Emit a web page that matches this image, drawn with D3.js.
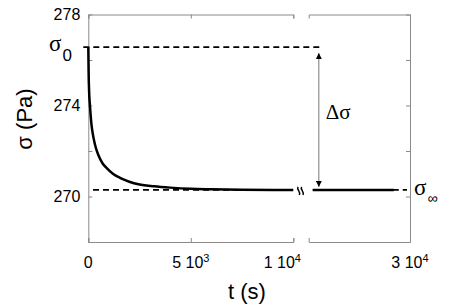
<!DOCTYPE html>
<html>
<head>
<meta charset="utf-8">
<script src="https://cdn.jsdelivr.net/npm/d3@7"></script>
<style>
  body { margin: 0; background: #fff; }
  svg { display: block; }
</style>
</head>
<body>
<svg id="chart" width="464" height="305"></svg>
<script>
// ---- data ----
const relaxT = [0, 15, 40, 80, 150, 250, 350, 500, 700, 900, 1200, 1600, 2000, 2500, 3200, 4000, 5000, 6000, 7500, 9000, 10000];
const relaxS = [276.57, 275.5, 274.6, 274.0, 273.2, 272.6, 272.2, 271.8, 271.45, 271.25, 271.0, 270.8, 270.65, 270.53, 270.45, 270.39, 270.34, 270.32, 270.3, 270.29, 270.29];
const lateT = [25200, 26000, 27000, 28000, 29200];
const lateS = [270.29, 270.29, 270.29, 270.29, 270.29];
const sigma0 = 276.57;
const sigmaInf = 270.29;
const yTicks = [268, 270, 272, 274, 276, 278];
const yLabeled = [270, 274, 278];
const xTicksLeft = [0, 5000, 10000];
const xTicksRight = [30000];
const xTickBase = ["0", "5 10", "1 10", "3 10"];
const xTickExp = ["", "3", "4", "4"];
const xDomainLeft = [0, 10000];
const xDomainRight = [25000, 30000];
const yDomain = [268, 278];
const arrowT = 25500;

// ---- layout ----
const svg = d3.select("#chart");
const xL = d3.scaleLinear().domain(xDomainLeft).range([88.3, 293.3]);
const xR = d3.scaleLinear().domain(xDomainRight).range([308.7, 410]);
const y = d3.scaleLinear().domain(yDomain).range([242, 14.5]);
const plotTop = y.range()[1], plotBottom = y.range()[0];
const axisColor = "#8a8a8a";
const sans = "'Liberation Sans', Arial, sans-serif";
const serif = "'Liberation Serif', 'Times New Roman', serif";

function styleAxis(g) {
  g.selectAll("path, line").attr("stroke", axisColor).attr("stroke-width", 1);
  g.selectAll("text").attr("fill", "#000").attr("font-family", sans).attr("font-size", 16);
}

// left axis
svg.append("g").attr("transform", `translate(${xL.range()[0]},0)`)
  .call(d3.axisLeft(y).tickValues(yTicks).tickSize(-4).tickSizeOuter(0).tickPadding(8)
    .tickFormat(d => yLabeled.includes(d) ? d : ""))
  .call(styleAxis);
// right axis
svg.append("g").attr("transform", `translate(${xR.range()[1]},0)`)
  .call(d3.axisRight(y).tickValues(yTicks).tickSize(-4).tickSizeOuter(0).tickFormat(""))
  .call(styleAxis);
// top axes
svg.append("g").attr("transform", `translate(0,${plotTop})`)
  .call(d3.axisTop(xL).tickValues(xTicksLeft).tickSize(-4).tickSizeOuter(-4).tickFormat(""))
  .call(styleAxis);
svg.append("g").attr("transform", `translate(0,${plotTop})`)
  .call(d3.axisTop(xR).tickValues(xTicksRight).tickSize(-4).tickSizeOuter(-4).tickFormat(""))
  .call(styleAxis);
// bottom axes
svg.append("g").attr("transform", `translate(0,${plotBottom})`)
  .call(d3.axisBottom(xL).tickValues(xTicksLeft).tickSize(-4).tickSizeOuter(-4).tickFormat(""))
  .call(styleAxis);
svg.append("g").attr("transform", `translate(0,${plotBottom})`)
  .call(d3.axisBottom(xR).tickValues(xTicksRight).tickSize(-4).tickSizeOuter(-4).tickFormat(""))
  .call(styleAxis);

// x tick labels with superscripts
const tickPos = [...xTicksLeft.map(v => xL(v)), ...xTicksRight.map(v => xR(v))];
const tickDx = [0, 0, -11, 0];
tickPos.forEach((px, i) => {
  const t = svg.append("text")
    .attr("x", px + tickDx[i]).attr("y", plotBottom + 26)
    .attr("text-anchor", "middle")
    .attr("font-family", sans).attr("font-size", 16).attr("fill", "#000");
  t.append("tspan").text(xTickBase[i]);
  if (xTickExp[i]) t.append("tspan").attr("dy", -6).attr("font-size", 11).text(xTickExp[i]);
});

// axis titles
svg.append("text").attr("x", 247).attr("y", 299).attr("text-anchor", "middle")
  .attr("font-family", sans).attr("font-size", 22).text("t (s)");
svg.append("text").attr("transform", "translate(32,119) rotate(-90)").attr("text-anchor", "middle")
  .attr("font-family", sans).attr("font-size", 22).text("σ (Pa)");

// dashed reference lines
const dash = "6,4";
svg.append("line").attr("x1", xL(0) - 5).attr("x2", xR(arrowT) + 1)
  .attr("y1", y(sigma0)).attr("y2", y(sigma0))
  .attr("stroke", "#000").attr("stroke-width", 1.8).attr("stroke-dasharray", dash);
svg.append("line").attr("x1", xL(230)).attr("x2", xL(9700))
  .attr("y1", y(sigmaInf)).attr("y2", y(sigmaInf))
  .attr("stroke", "#000").attr("stroke-width", 1.8).attr("stroke-dasharray", dash);
svg.append("line").attr("x1", xR(25200)).attr("x2", xR(29850))
  .attr("y1", y(sigmaInf)).attr("y2", y(sigmaInf))
  .attr("stroke", "#000").attr("stroke-width", 1.8).attr("stroke-dasharray", dash);

// data curves
const lineL = d3.line().x((d, i) => xL(relaxT[i])).y(d => y(d)).curve(d3.curveMonotoneX);
svg.append("path").attr("d", lineL(relaxS)).attr("fill", "none")
  .attr("stroke", "#000").attr("stroke-width", 2.5);
const lineR = d3.line().x((d, i) => xR(lateT[i])).y(d => y(d));
svg.append("path").attr("d", lineR(lateS)).attr("fill", "none")
  .attr("stroke", "#000").attr("stroke-width", 2.5);

// break symbol
const bx = (xL.range()[1] + xR.range()[0]) / 2, by = y(sigmaInf) + 1;
[-1.8, 1.8].forEach(off => {
  const p = d3.path();
  p.moveTo(bx + off - 1.2, by - 4);
  p.bezierCurveTo(bx + off - 2.8, by - 1, bx + off + 1.5, by + 0, bx + off + 0.2, by + 4);
  svg.append("path").attr("d", p.toString()).attr("fill", "none")
    .attr("stroke", "#000").attr("stroke-width", 1.5);
});

// delta-sigma arrow
const ax = xR(arrowT);
svg.append("defs").append("marker").attr("id", "ah").attr("viewBox", "0 0 10 10")
  .attr("refX", 10).attr("refY", 5).attr("markerWidth", 6).attr("markerHeight", 6)
  .attr("markerUnits", "userSpaceOnUse").attr("orient", "auto-start-reverse")
  .append("path").attr("d", "M0,0 L10,5 L0,10 z").attr("fill", "#000");
svg.append("line").attr("x1", ax).attr("x2", ax)
  .attr("y1", y(sigma0) + 6).attr("y2", y(sigmaInf) - 3)
  .attr("stroke", "#777").attr("stroke-width", 1)
  .attr("marker-start", "url(#ah)").attr("marker-end", "url(#ah)");
svg.append("text").attr("x", ax + 7).attr("y", 119)
  .attr("font-family", serif).attr("font-size", 21).text("Δσ");

// sigma labels
const s0 = svg.append("text").attr("x", 49).attr("y", 51).attr("font-family", serif).attr("font-size", 23);
s0.append("tspan").text("σ");
s0.append("tspan").attr("dy", 10).attr("dx", 1).attr("font-family", sans).attr("font-size", 17).text("0");
const si = svg.append("text").attr("x", 414).attr("y", 195).attr("font-family", serif).attr("font-size", 23);
si.append("tspan").text("σ");
si.append("tspan").attr("dy", 8).attr("dx", 1).attr("font-family", sans).attr("font-size", 14).text("∞");
</script>
</body>
</html>
